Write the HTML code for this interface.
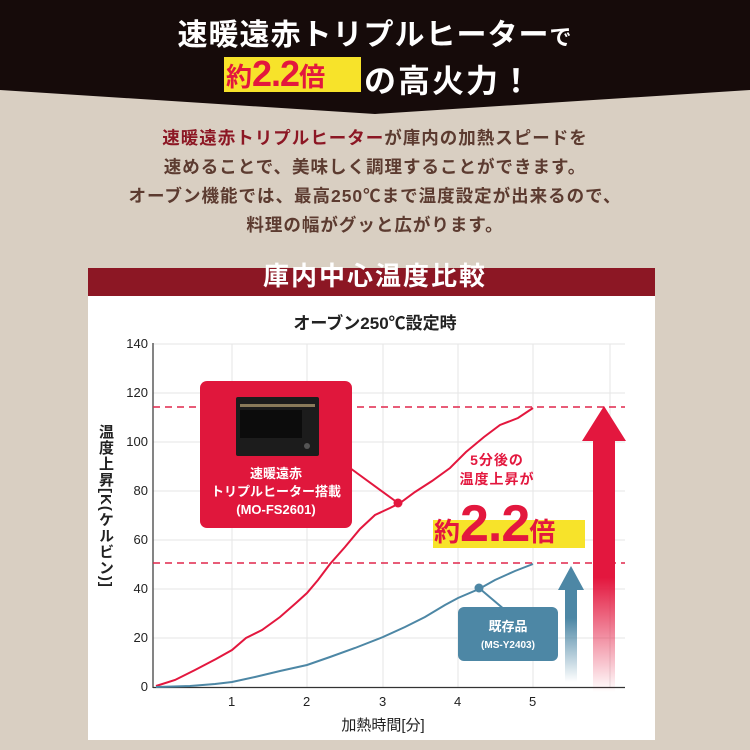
<!DOCTYPE html>
<html><head><meta charset="utf-8"><style>
html,body{margin:0;padding:0}
body{width:750px;height:750px;overflow:hidden;background:#d9cfc2;position:relative;font-family:"Liberation Sans","Noto Sans CJK JP",sans-serif}
.a{position:absolute;white-space:nowrap}
</style></head><body>
<svg class="a" style="left:0;top:0" width="750" height="750">
<polygon points="0,0 750,0 750,90 375,114 0,90" fill="#160b0a"/>
<rect x="224" y="57" width="137" height="35" fill="#f7e32a"/>
<rect x="88" y="268" width="567" height="28" fill="#8c1724"/>
<rect x="88" y="296" width="567" height="444" fill="#fff"/>
<g stroke="#e6e6e6" stroke-width="1">
<line x1="232" y1="344" x2="232" y2="687"/><line x1="307" y1="344" x2="307" y2="687"/><line x1="383" y1="344" x2="383" y2="687"/><line x1="458" y1="344" x2="458" y2="687"/><line x1="533" y1="344" x2="533" y2="687"/><line x1="610" y1="344" x2="610" y2="687"/>
<line x1="153" y1="638" x2="625" y2="638"/><line x1="153" y1="589" x2="625" y2="589"/><line x1="153" y1="540" x2="625" y2="540"/><line x1="153" y1="491" x2="625" y2="491"/><line x1="153" y1="442" x2="625" y2="442"/><line x1="153" y1="393" x2="625" y2="393"/><line x1="153" y1="344" x2="625" y2="344"/>
</g>
<line x1="153" y1="343" x2="153" y2="688" stroke="#333" stroke-width="1.2"/>
<line x1="153" y1="687.5" x2="625" y2="687.5" stroke="#333" stroke-width="1.2"/>
<line x1="153" y1="407" x2="625" y2="407" stroke="#e0274b" stroke-width="1.5" stroke-dasharray="7,5"/>
<line x1="153" y1="563" x2="625" y2="563" stroke="#e0274b" stroke-width="1.5" stroke-dasharray="7,5"/>
<defs>
<linearGradient id="rg" x1="0" y1="0" x2="0" y2="1"><stop offset="0.6" stop-color="#e3173e"/><stop offset="1" stop-color="#e3173e" stop-opacity="0"/></linearGradient>
<linearGradient id="bg" x1="0" y1="0" x2="0" y2="1"><stop offset="0.45" stop-color="#4d87a5"/><stop offset="1" stop-color="#4d87a5" stop-opacity="0"/></linearGradient>
</defs>
<polygon points="604,406 626,441 615,441 615,692 593,692 593,441 582,441" fill="url(#rg)"/>
<polygon points="571,566 584,590 577,590 577,682 565,682 565,590 558,590" fill="url(#bg)"/>
<polyline fill="none" stroke="#e3173e" stroke-width="2" points="156,686 175,680 195,670 216,659 232,650 246,638 262,630 280,617 296,603 307,593 318,580 330,564 345,547 360,529 375,515 390,508 400,503 415,492 432,481 450,468 466,452 484,437 500,425 518,418 533,408"/>
<polyline fill="none" stroke="#4d87a5" stroke-width="2" points="156,687 190,686 215,684 232,682 255,677 280,671 307,665 330,657 355,648 383,637 405,627 425,617 445,605 458,598 479,589 495,580 515,571 533,564"/>
<circle cx="398" cy="503" r="4.5" fill="#e3173e"/>
<circle cx="479" cy="588" r="4.5" fill="#4d87a5"/>
<line x1="350" y1="468" x2="398" y2="503" stroke="#e3173e" stroke-width="2"/>
<line x1="479" y1="588" x2="505" y2="610" stroke="#4d87a5" stroke-width="2"/>
<rect x="200" y="381" width="152" height="147" rx="7" fill="#e0173c"/>
<rect x="236" y="397" width="83" height="59" rx="2" fill="#1c1c1c"/>
<rect x="240" y="404" width="75" height="3" fill="#8a7a5a"/>
<rect x="240" y="410" width="62" height="28" fill="#0c0c0c"/>
<circle cx="307" cy="446" r="3" fill="#555"/>
<rect x="458" y="607" width="100" height="54" rx="6" fill="#4d87a5"/>
<rect x="433" y="520" width="152" height="28" fill="#f7e32a"/>
</svg>
<div class="a" style="left:0;width:750px;top:10px;text-align:center;color:#fff;font-weight:bold;font-size:30px;letter-spacing:1px">速暖遠赤トリプルヒーター<span style="font-size:22px">で</span></div>
<div class="a" style="left:226px;top:53px;color:#e3173e;font-weight:bold;font-size:30px"><span style="font-size:26px">約</span><span style="font-size:36px;letter-spacing:-1px">2.2</span><span style="font-size:26px">倍</span></div>
<div class="a" style="left:364px;top:56px;color:#fff;font-weight:bold;font-size:32px;letter-spacing:2px">の高火力！</div>
<div class="a" style="left:0;width:750px;top:124px;text-align:center;color:#5c3b30;font-weight:bold;font-size:17.5px;line-height:29px;letter-spacing:1px"><span style="color:#8c1724">速暖遠赤トリプルヒーター</span>が庫内の加熱スピードを<br>速めることで、美味しく調理することができます。<br>オーブン機能では、最高250℃まで温度設定が出来るので、<br>料理の幅がグッと広がります。</div>
<div class="a" style="left:0;width:750px;top:256px;text-align:center;color:#fff;font-weight:bold;font-size:26px;letter-spacing:2px">庫内中心温度比較</div>
<div class="a" style="left:0;width:750px;top:309px;text-align:center;color:#222;font-weight:bold;font-size:17px">オーブン250℃設定時</div>
<div class="a" style="left:110px;width:38px;text-align:right;top:336px;font-size:13px;color:#222;line-height:16px">
<div style="position:absolute;right:0;top:0">140</div><div style="position:absolute;right:0;top:49px">120</div><div style="position:absolute;right:0;top:98px">100</div><div style="position:absolute;right:0;top:147px">80</div><div style="position:absolute;right:0;top:196px">60</div><div style="position:absolute;right:0;top:245px">40</div><div style="position:absolute;right:0;top:294px">20</div><div style="position:absolute;right:0;top:343px">0</div></div>
<div class="a" style="left:228px;top:694px;font-size:13px;color:#222">1</div>
<div class="a" style="left:303px;top:694px;font-size:13px;color:#222">2</div>
<div class="a" style="left:379px;top:694px;font-size:13px;color:#222">3</div>
<div class="a" style="left:454px;top:694px;font-size:13px;color:#222">4</div>
<div class="a" style="left:529px;top:694px;font-size:13px;color:#222">5</div>
<div class="a" style="left:0;width:766px;top:714px;text-align:center;font-size:15px;color:#222">加熱時間[分]</div>
<div class="a" style="left:95px;top:424px;writing-mode:vertical-rl;font-size:15px;font-weight:bold;color:#222;letter-spacing:1px">温度上昇[K(ケルビン)]</div>
<div class="a" style="left:200px;width:152px;top:465px;text-align:center;color:#fff;font-weight:bold;font-size:13px;line-height:18px">速暖遠赤<br>トリプルヒーター搭載<br>(MO-FS2601)</div>
<div class="a" style="left:458px;width:100px;top:618px;text-align:center;color:#fff;font-weight:bold;font-size:13px;line-height:17px">既存品<br><span style="font-size:10px">(MS-Y2403)</span></div>
<div class="a" style="left:447px;width:100px;top:451px;text-align:center;color:#e3173e;font-weight:bold;font-size:14px;line-height:19px;letter-spacing:1px">5分後の<br>温度上昇が</div>
<div class="a" style="left:434px;top:496px;color:#e3173e;font-weight:bold;line-height:56px"><span style="font-size:26px">約</span><span style="font-size:52px;letter-spacing:-1px">2.2</span><span style="font-size:26px">倍</span></div>
</body></html>
